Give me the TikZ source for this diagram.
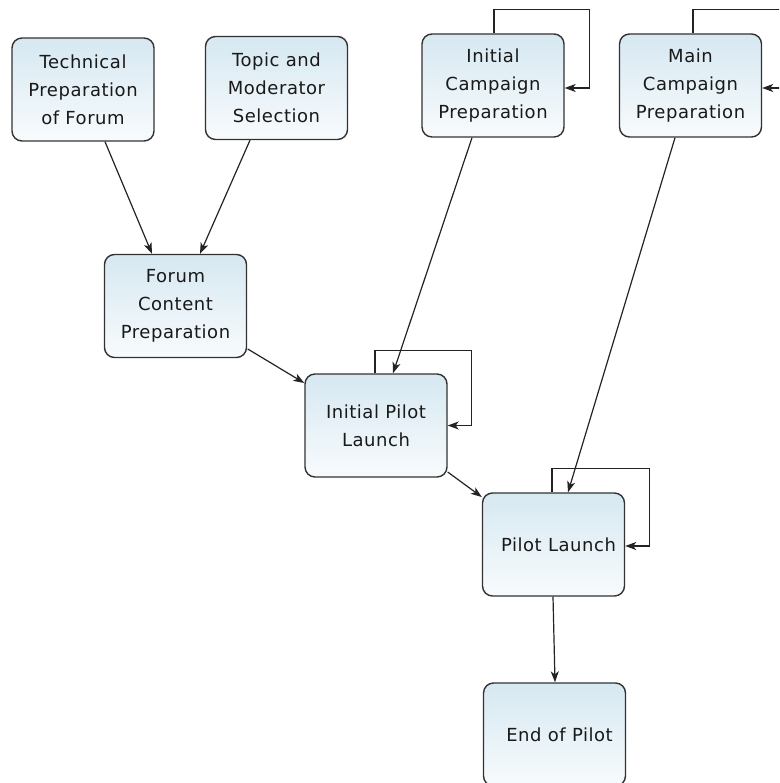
\documentclass[tikz,border=0pt]{standalone}
\usepackage{fontspec}
\setmainfont[LetterSpace=3]{DejaVu Sans}
\usetikzlibrary{calc,arrows.meta}
\definecolor{boxtop}{RGB}{214,232,241}
\definecolor{boxbot}{RGB}{248,251,253}
\definecolor{boxline}{RGB}{50,50,50}
\definecolor{wireline}{RGB}{35,35,35}
\tikzset{
  task/.style={draw=boxline, line width=1.4pt, rounded corners=10pt,
    top color=boxtop, bottom color=boxbot,
    minimum width=142pt, minimum height=103pt, inner sep=0pt,
    align=center, font=\fontsize{18}{28}\selectfont, text=black!90},
  flow/.style={draw=wireline, line width=1.2pt,
    -{Stealth[length=11pt,width=8pt,inset=3pt]}},
}
\begin{document}
\begin{tikzpicture}[x=1pt,y=-1pt]
  \useasboundingbox (0,0) rectangle (779,783);
  \clip (0,0) rectangle (779,783);

  % process steps
  \node[task] (tech)   at (83,89.5)    {Technical\\Preparation\\of Forum};
  \node[task] (topic)  at (276.5,88)   {Topic and\\Moderator\\Selection};
  \node[task] (icamp)  at (493,85.5)   {Initial\\Campaign\\Preparation};
  \node[task] (mcamp)  at (690.5,85.5) {Main\\Campaign\\Preparation};
  \node[task] (forum)  at (175.5,306)  {Forum\\Content\\Preparation};
  \node[task] (ipilot) at (376,425.5)  {Initial Pilot\\Launch};
  \node[task] (pilot)  at (553.5,544.5){\hspace*{10pt}Pilot Launch};
  \node[task] (end)    at (554.5,734.5){\hspace*{10pt}End of Pilot};

  % dependencies
  \draw[flow] ($(tech.south)+(22,0)$)    -- ($(forum.north)+(-23.5,0)$);
  \draw[flow] ($(topic.south)+(-26.5,0)$) -- ($(forum.north)+(24.5,0)$);
  \draw[flow] ($(forum.east)+(0.5,43)$)   -- ($(ipilot.west)+(0,-42.5)$);
  \draw[flow] ($(icamp.south)+(-21,0)$)   -- ($(ipilot.north)+(17,0)$);
  \draw[flow] ($(mcamp.south)+(-15.5,0)$) -- ($(pilot.north)+(14.5,0)$);
  \draw[flow] ($(ipilot.east)+(0,46.5)$)  -- ($(pilot.west)+(0,-47.5)$);
  \draw[flow] ($(pilot.south)+(-0.5,0)$)  -- ($(end.north)+(0.5,0)$);

  % repeating steps
  \draw[flow] ($(icamp.north)+(1,0)$) -- ++(0,-24)
      -| ($(icamp.east)+(25,2.5)$) -- ($(icamp.east)+(0,2.5)$);
  \draw[flow] ($(mcamp.north)+(2.5,0)$) -- ++(0,-24)
      -| ($(mcamp.east)+(30,2.5)$) -- ($(mcamp.east)+(0,2.5)$);
  \draw[flow] ($(ipilot.north)+(-1,0)$) -- ++(0,-23)
      -| ($(ipilot.east)+(24,0)$) -- (ipilot.east);
  \draw[flow] ($(pilot.north)+(-1.5,0)$) -- ++(0,-24)
      -| ($(pilot.east)+(24,1.5)$) -- ($(pilot.east)+(0,1.5)$);
\end{tikzpicture}
\end{document}
